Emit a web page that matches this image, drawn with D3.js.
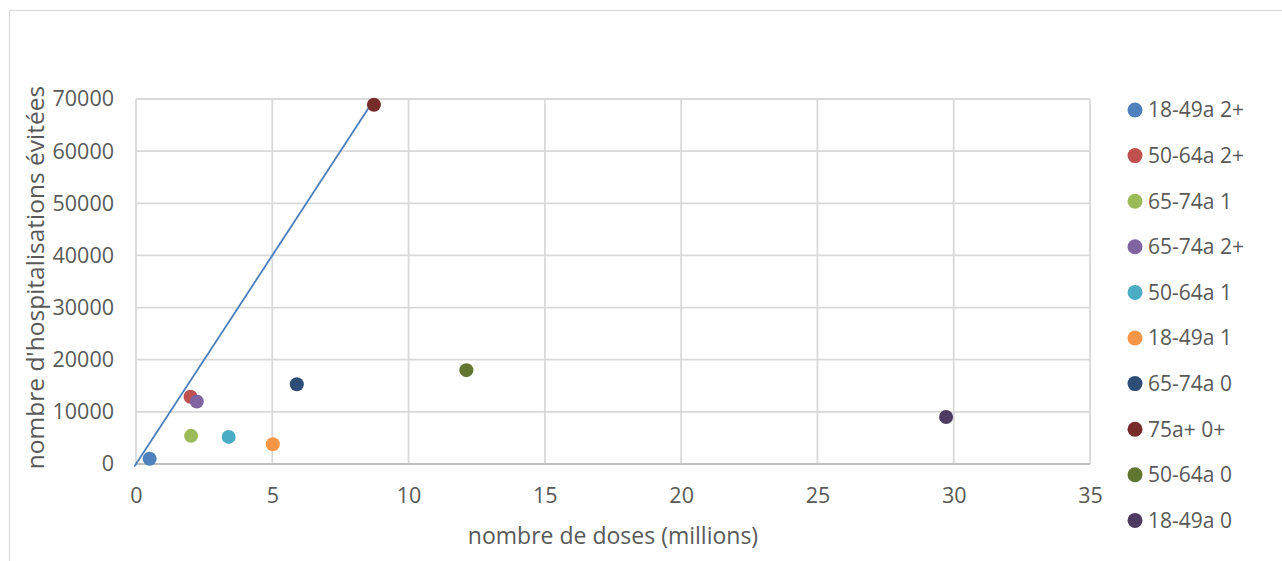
<!DOCTYPE html>
<html>
<head>
<meta charset="utf-8">
<script src="https://cdn.jsdelivr.net/npm/d3@7"></script>
<style>
  html, body { margin:0; padding:0; background:#fff; }
  svg { display:block; font-family:"Open Sans", sans-serif; }
</style>
</head>
<body>
<svg id="chart" width="1282" height="561"></svg>
<script>
// ===== Data =====
const series = ['18-49a 2+','50-64a 2+','65-74a 1','65-74a 2+','50-64a 1','18-49a 1','65-74a 0','75a+ 0+','50-64a 0','18-49a 0'];
const doses  = [0.5, 2.0, 2.02, 2.23, 3.4, 5.02, 5.9, 8.73, 12.12, 29.72];
const hosp   = [1000, 12900, 5400, 12000, 5200, 3800, 15300, 68900, 18000, 9000];
const colors = ['#4f81bd','#c0504d','#9bbb59','#8064a2','#4bacc6','#f79646','#2c4d75','#772c2a','#5f7530','#4d3b62'];
const lineX = [-0.06, 8.7];
const lineY = [-500, 69600];
const xTicks = [0,5,10,15,20,25,30,35];
const yTicks = [0,10000,20000,30000,40000,50000,60000,70000];

const svg = d3.select('#chart');
const M = {left:136, right:1090, top:99, bottom:464};

// chart frame
svg.append('rect')
  .attr('x', 9.5).attr('y', 10.5).attr('width', 1300).attr('height', 600)
  .attr('fill','none').attr('stroke','#d9d9d9').attr('stroke-width',1.2);

const x = d3.scaleLinear().domain([0,35]).range([M.left, M.right]);
const y = d3.scaleLinear().domain([0,70000]).range([M.bottom, M.top]);

// grid
const gGrid = svg.append('g');
gGrid.selectAll('line.v').data(xTicks).join('line')
  .attr('class','v')
  .attr('x1', d=>x(d)).attr('x2', d=>x(d))
  .attr('y1', M.top).attr('y2', M.bottom)
  .attr('stroke','#d9d9d9').attr('stroke-width',1.8);
gGrid.selectAll('line.h').data(yTicks).join('line')
  .attr('class','h')
  .attr('x1', M.left).attr('x2', M.right)
  .attr('y1', d=>y(d)).attr('y2', d=>y(d))
  .attr('stroke', d=> d===0 ? '#bfbfbf' : '#d9d9d9').attr('stroke-width',1.8);

// axes (labels only, Excel style)
const xAxis = d3.axisBottom(x).tickValues(xTicks).tickSize(0).tickPadding(24);
const yAxis = d3.axisLeft(y).tickValues(yTicks).tickSize(0).tickPadding(22).tickFormat(d3.format('d'));

const xAxisG = svg.append('g').attr('transform', `translate(0,${M.bottom})`).call(xAxis);
const yAxisG = svg.append('g').attr('transform', `translate(${M.left},0)`).call(yAxis);
[xAxisG, yAxisG].forEach(g => {
  g.select('.domain').remove();
  g.selectAll('text').attr('fill','#595959').style('font-size','21.5px').style('font-family','"Open Sans", sans-serif');
});

// axis titles
svg.append('text')
  .attr('x', (M.left+M.right)/2).attr('y', 544)
  .attr('text-anchor','middle').attr('fill','#595959')
  .style('font-size','23px')
  .text('nombre de doses (millions)');
svg.append('text')
  .attr('transform', `translate(44,${(M.top+M.bottom)/2 - 4}) rotate(-90)`)
  .attr('text-anchor','middle').attr('fill','#595959')
  .style('font-size','24.5px')
  .text("nombre d'hospitalisations évitées");

// reference line
const lineData = lineX.map((v,i)=>({x:v, y:lineY[i]}));
svg.append('path')
  .datum(lineData)
  .attr('d', d3.line().x(d=>x(d.x)).y(d=>y(d.y)))
  .attr('fill','none').attr('stroke','#4a7ebb').attr('stroke-width',1.8);

// points
const pts = series.map((s,i)=>({name:s, x:doses[i], y:hosp[i], c:colors[i]}));
svg.append('g').selectAll('circle').data(pts).join('circle')
  .attr('cx', d=>x(d.x)).attr('cy', d=>y(d.y)).attr('r', 7)
  .attr('fill', d=>d.c);

// legend
const leg = svg.append('g').selectAll('g').data(pts).join('g')
  .attr('transform', (d,i)=>`translate(1135,${110 + i*45.6})`);
leg.append('circle').attr('r', 7.5).attr('fill', d=>d.c);
leg.append('text').attr('x', 13).attr('dy','0.35em')
  .attr('fill','#595959').style('font-size','21px')
  .text(d=>d.name);
</script>
</body>
</html>
